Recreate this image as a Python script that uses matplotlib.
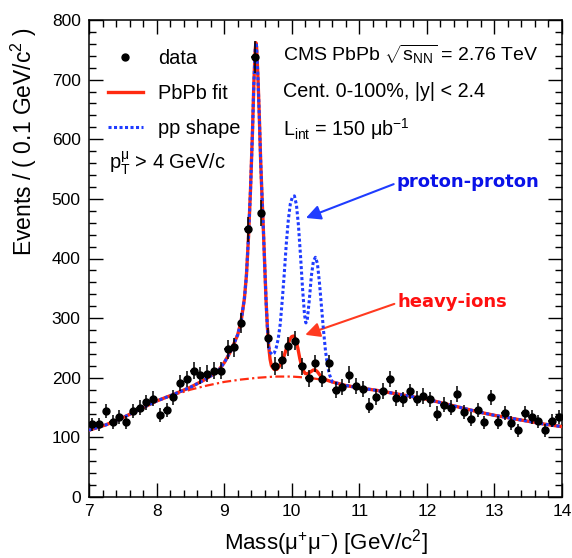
import numpy as np
import matplotlib
matplotlib.use("Agg")
import matplotlib.pyplot as plt
from matplotlib.lines import Line2D
from matplotlib.ticker import MultipleLocator

plt.rcParams["font.family"] = ["Liberation Sans", "DejaVu Sans"]
plt.rcParams["mathtext.fontset"] = "custom"
plt.rcParams["mathtext.rm"] = "Liberation Sans"
plt.rcParams["mathtext.it"] = "Liberation Sans:italic"
plt.rcParams["mathtext.default"] = "regular"

# dimuon mass histogram, 0.1 GeV bins from 7 to 14
mass = np.round(np.arange(7.05, 14.0, 0.1), 2)
counts = np.array([
    122, 122, 144, 126, 134, 125, 144, 150, 159, 165,
    138, 146, 167, 191, 198, 212, 204, 207, 212, 212,
    248, 251, 292, 449, 738, 477, 267, 220, 230, 253,
    262, 219, 199, 224, 198, 224, 180, 185, 205, 186,
    181, 153, 168, 178, 198, 166, 164, 177, 165, 169,
    164, 140, 155, 150, 173, 142, 131, 146, 125, 167,
    125, 141, 124, 112, 141, 134, 127, 112, 128, 134,
])
errors = np.sqrt(counts)

# PbPb fit curve
fit_mass = [7.0, 7.25, 7.5, 7.75, 8.0, 8.25, 8.5, 8.7, 8.9, 9.0, 9.1, 9.2, 9.25,
            9.3, 9.33, 9.36, 9.39, 9.42, 9.44, 9.46, 9.47, 9.48, 9.5, 9.52, 9.54,
            9.56, 9.58, 9.6, 9.62, 9.64, 9.66, 9.68, 9.7, 9.74, 9.78, 9.83, 9.88,
            9.93, 9.97, 10.0, 10.03, 10.06, 10.09, 10.12, 10.16, 10.2, 10.24,
            10.28, 10.32, 10.35, 10.38, 10.42, 10.47, 10.52, 10.6, 10.7, 10.8,
            11.0, 11.25, 11.5, 11.75, 12.0, 12.25, 12.5, 12.75, 13.0, 13.25,
            13.5, 13.75, 14.0]
fit_pbpb = [112, 121, 133, 147, 161, 172, 184, 196, 210, 225, 245, 272, 294,
            333, 372, 435, 515, 615, 695, 750, 762, 755, 705, 640, 565,
            505, 450, 390, 330, 285, 252, 231, 220, 214, 214, 221, 234,
            252, 264, 269, 270, 264, 250, 232, 214, 207, 207,
            210, 213, 213, 210, 204, 199, 196, 193, 190, 187,
            183, 179, 174, 169, 164, 157, 150, 143, 137, 132,
            127, 122, 118]

# pp shape where it differs from the PbPb fit
pp_mid_mass = [9.68, 9.71, 9.74, 9.77, 9.8, 9.83, 9.86, 9.89, 9.92, 9.95, 9.98,
               10.01, 10.04, 10.07, 10.1, 10.13, 10.16, 10.19, 10.21, 10.23,
               10.26, 10.29, 10.32, 10.35, 10.38, 10.41, 10.44, 10.47, 10.5,
               10.53, 10.56]
pp_mid = [243, 239, 241, 250, 265, 290, 330, 375, 425, 465, 492,
          503, 505, 490, 455, 405, 350, 305, 292, 297,
          330, 370, 395, 402, 392, 360, 320, 280, 245,
          220, 205]

# background component
bkg_mass = [7.0, 7.25, 7.5, 7.75, 8.0, 8.25, 8.5, 8.75, 9.0, 9.25, 9.5, 9.75,
            10.0, 10.25, 10.5, 10.75, 11.0, 11.25, 11.5, 11.75, 12.0, 12.25,
            12.5, 12.75, 13.0, 13.25, 13.5, 13.75, 14.0]
bkg = [112, 121, 133, 147, 161, 171, 180, 187, 193, 197, 200, 202,
       202, 200, 196, 189, 183, 179, 174, 169, 164, 157,
       150, 143, 137, 132, 127, 122, 118]

fit_mass = np.array(fit_mass)
fit_pbpb = np.array(fit_pbpb)
pp_mass = np.concatenate([fit_mass[fit_mass < 9.67], pp_mid_mass, fit_mass[fit_mass > 10.59]])
pp_shape = np.concatenate([fit_pbpb[fit_mass < 9.67], pp_mid, fit_pbpb[fit_mass > 10.59]])

red = "#ff2a10"
blue = "#1f3cff"

fig = plt.figure(figsize=(5.72, 5.58), dpi=100)
ax = fig.add_axes([89 / 572, 61 / 558, 473 / 572, 477 / 558])

ax.plot(bkg_mass, bkg, color=red, lw=1.6, ls=(0, (4, 1.5, 1, 1.5)), zorder=2)
ax.plot(fit_mass, fit_pbpb, color=red, lw=2.4, zorder=3)
ax.plot(pp_mass, pp_shape, color=blue, lw=2.2, ls=(0, (1.0, 0.8)), zorder=4)
ax.errorbar(mass, counts, yerr=errors, xerr=0.05, fmt="o", color="black",
            ms=5, elinewidth=1.1, capsize=0, zorder=5)

ax.set_xlim(7, 14)
ax.set_ylim(0, 800)
ax.xaxis.set_major_locator(MultipleLocator(1))
ax.xaxis.set_minor_locator(MultipleLocator(0.2))
ax.yaxis.set_major_locator(MultipleLocator(100))
ax.yaxis.set_minor_locator(MultipleLocator(20))
ax.tick_params(which="both", direction="in", top=True, right=True, labelsize=12.5)
ax.tick_params(which="major", length=10, width=1)
ax.tick_params(which="minor", length=5, width=1)
ax.tick_params(axis="y", pad=6)
ax.tick_params(axis="x", pad=5)
for s in ax.spines.values():
    s.set_linewidth(1.1)

ax.set_xlabel(r"Mass(μ$^{+}$μ$^{-}$) [GeV/c$^{2}$]", fontsize=16, va="top")
ax.xaxis.set_label_coords(0.5, -0.063)
ax.set_ylabel(r"Events / ( 0.1 GeV/c$^{2}$ )", fontsize=16.5, loc="top")
ax.yaxis.set_label_coords(-0.105, 0.985)

handles = [
    Line2D([], [], marker="o", ls="", color="black", ms=5),
    Line2D([], [], color=red, lw=2.4),
    Line2D([], [], color=blue, lw=2.2, ls=(0, (1.0, 0.8))),
]
ax.legend(handles, ["data", "PbPb fit", "pp shape"], loc="upper left",
          bbox_to_anchor=(0.04, 0.94), frameon=False, fontsize=14.4,
          handlelength=1.75, handletextpad=0.75, labelspacing=0.8,
          borderpad=0, borderaxespad=0)

ax.text(0.042, 0.700, r"$p_{T}^{μ}$ > 4 GeV/c", transform=ax.transAxes,
        fontsize=14.4, va="center", ha="left")
ax.text(0.410, 0.927, r"CMS PbPb $\sqrt{s_{NN}}$ = 2.76 TeV", transform=ax.transAxes,
        fontsize=14, va="center", ha="left")
ax.text(0.410, 0.851, "Cent. 0-100%, |y| < 2.4", transform=ax.transAxes,
        fontsize=14.2, va="center", ha="left")
ax.text(0.410, 0.772, r"L$_{int}$ = 150 μb$^{-1}$", transform=ax.transAxes,
        fontsize=14.2, va="center", ha="left")

ax.annotate("proton-proton", xy=(10.21, 468), xytext=(11.55, 528),
            color="#0a12e8", fontsize=13, fontweight="bold", family="DejaVu Sans",
            va="center", ha="left",
            arrowprops=dict(arrowstyle="-|>", color=blue, lw=1.5,
                            mutation_scale=22, relpos=(0, 0.45), shrinkA=0, shrinkB=0))
ax.annotate("heavy-ions", xy=(10.20, 272), xytext=(11.56, 327),
            color="#ff1010", fontsize=13, fontweight="bold", family="DejaVu Sans",
            va="center", ha="left",
            arrowprops=dict(arrowstyle="-|>", color="#ff3a20", lw=1.5,
                            mutation_scale=22, relpos=(0, 0.45), shrinkA=0, shrinkB=0))

fig.savefig("out.png", dpi=100)
